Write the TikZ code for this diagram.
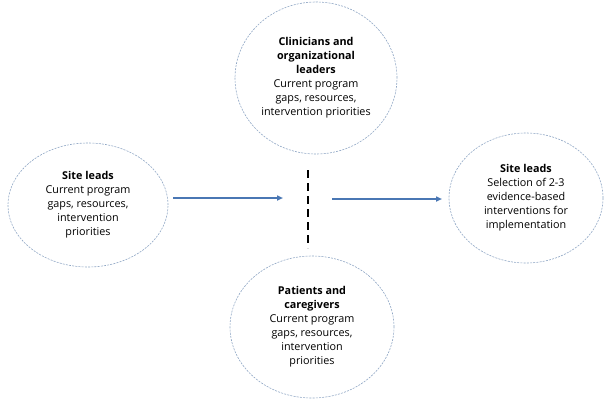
\documentclass[tikz,border=0pt]{standalone}
\usepackage{fontspec}
\setmainfont{Open Sans}
\usetikzlibrary{shapes.geometric,arrows.meta}
\definecolor{ringc}{HTML}{8FA6C4}
\definecolor{arrc}{HTML}{4A77B4}
\tikzset{
  bubble/.style={ellipse, draw=ringc, dashed, dash pattern=on 2pt off 1.2pt, line width=0.6pt, inner sep=0pt, align=center, font=\fontsize{10.8}{14}\selectfont},
  flow/.style={draw=arrc, line width=1.6pt, -{Triangle[length=6pt,width=5pt]}},
  divider/.style={draw=black, line width=2.6pt, dash pattern=on 8pt off 5pt}
}
\begin{document}
\begin{tikzpicture}[x=1pt,y=-1pt]
\useasboundingbox (0,0) rectangle (608,407);
\node[bubble, minimum width=160pt, minimum height=124pt] (left) at (88,205) {\textbf{Site leads}\\Current program\\gaps, resources,\\intervention\\priorities};
\node[bubble, minimum width=162pt, minimum height=152pt] (top) at (316,78) {\textbf{Clinicians and}\\\textbf{organizational}\\\textbf{leaders}\\Current program\\gaps, resources,\\intervention priorities};
\node[bubble, minimum width=154pt, minimum height=130pt] (right) at (526,198) {\textbf{Site leads}\\Selection of 2-3\\evidence-based\\interventions for\\implementation};
\node[bubble, minimum width=164pt, minimum height=142pt] (bottom) at (312,327) {\textbf{Patients and}\\\textbf{caregivers}\\Current program\\gaps, resources,\\intervention\\priorities};
\coordinate (a1s) at (173,198);
\coordinate (a1e) at (283,198);
\coordinate (a2s) at (332,199);
\coordinate (a2e) at (442,199);
\coordinate (d1) at (308,170);
\coordinate (d2) at (308,248);
\draw[flow] (a1s) -- (a1e);
\draw[flow] (a2s) -- (a2e);
\draw[divider] (d1) -- (d2);
\end{tikzpicture}
\end{document}
